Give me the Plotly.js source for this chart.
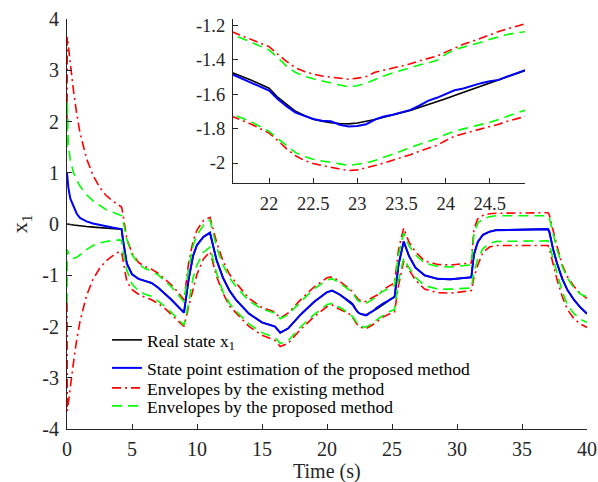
<!DOCTYPE html>
<html>
<head>
<meta charset="utf-8">
<script src="https://cdn.plot.ly/plotly-3.0.1.min.js"></script>
<style>html,body{margin:0;padding:0;background:#fff;}#chart{width:598px;height:482px;}</style>
</head>
<body>
<div id="chart"></div>
<script>
// ---------- data ----------
var time = [0,0.02,0.1,0.25,0.5,0.75,1.0,1.5,2.0,2.5,3.0,3.5,4.0,4.2,4.3,4.6,5.0,5.5,6.0,6.5,7.0,7.5,8.0,8.5,9.0,9.35,9.7,10.0,10.5,11.0,11.5,12.0,12.5,13.0,14.0,15.0,16.0,16.4,17.0,18.0,19.0,20.0,20.4,21.0,
  21.6,21.8,22.0,22.1,22.2,22.3,22.4,22.5,22.6,22.7,22.8,22.9,23.0,23.1,23.2,23.3,23.4,23.5,23.6,23.7,23.8,23.9,24.0,24.1,24.2,24.3,24.4,24.5,24.6,24.7,24.8,24.9,
  25.0,25.2,25.5,25.9,26.3,26.8,27.5,28.5,29.5,31.0,31.1,31.3,31.6,32.0,32.5,33.0,35.0,37.0,37.1,37.4,37.7,38.1,38.5,39.0,39.5,40.0];

var realState = [0,0,-0.005,-0.01,-0.02,-0.03,-0.04,-0.05,-0.06,-0.07,-0.08,-0.085,-0.09,-0.1,-0.3,-0.77,-0.98,-1.07,-1.11,-1.15,-1.24,-1.35,-1.47,-1.6,-1.73,-1.09,-0.62,-0.41,-0.25,-0.17,-0.70,-1.05,-1.3,-1.48,-1.75,-1.92,-2.0,-2.12,-2.04,-1.76,-1.52,-1.33,-1.30,-1.38,
  -1.48,-1.52,-1.566,-1.62,-1.66,-1.70,-1.725,-1.746,-1.758,-1.767,-1.771,-1.773,-1.768,-1.76,-1.748,-1.735,-1.722,-1.71,-1.695,-1.678,-1.662,-1.645,-1.627,-1.609,-1.591,-1.572,-1.553,-1.535,-1.516,-1.497,-1.48,-1.464,
  -1.45,-1.42,-0.8,-0.34,-0.62,-0.85,-1.0,-1.07,-1.08,-1.05,-1.04,-0.6,-0.35,-0.21,-0.15,-0.12,-0.11,-0.10,-0.15,-0.5,-0.77,-1.07,-1.29,-1.48,-1.63,-1.75];

var estimate = [1.0,0.93,0.72,0.5,0.33,0.2,0.12,0.05,0.01,-0.02,-0.05,-0.07,-0.09,-0.1,-0.3,-0.77,-0.98,-1.07,-1.11,-1.15,-1.24,-1.35,-1.47,-1.6,-1.73,-1.09,-0.62,-0.41,-0.25,-0.17,-0.70,-1.05,-1.3,-1.48,-1.75,-1.92,-2.0,-2.12,-2.04,-1.76,-1.52,-1.33,-1.30,-1.38,
  -1.49,-1.535,-1.58,-1.63,-1.672,-1.708,-1.728,-1.745,-1.755,-1.758,-1.778,-1.788,-1.786,-1.775,-1.748,-1.73,-1.72,-1.708,-1.692,-1.668,-1.64,-1.622,-1.598,-1.578,-1.568,-1.552,-1.537,-1.526,-1.518,-1.498,-1.478,-1.462,
  -1.45,-1.42,-0.8,-0.34,-0.62,-0.85,-1.0,-1.07,-1.08,-1.05,-1.04,-0.6,-0.35,-0.21,-0.15,-0.12,-0.11,-0.10,-0.15,-0.5,-0.77,-1.07,-1.29,-1.48,-1.63,-1.75];

var existingUpper = [2.0,3.65,3.48,3.12,2.6,2.15,1.78,1.28,0.95,0.72,0.56,0.45,0.37,0.33,0.2,-0.28,-0.57,-0.75,-0.83,-0.88,-0.96,-1.07,-1.18,-1.32,-1.48,-0.77,-0.33,-0.12,0.07,0.13,-0.35,-0.72,-0.98,-1.15,-1.45,-1.63,-1.72,-1.84,-1.74,-1.47,-1.23,-1.05,-1.03,-1.12,
  -1.242,-1.28,-1.325,-1.37,-1.412,-1.448,-1.47,-1.485,-1.496,-1.502,-1.51,-1.514,-1.508,-1.499,-1.474,-1.462,-1.452,-1.44,-1.425,-1.408,-1.395,-1.38,-1.357,-1.335,-1.312,-1.295,-1.275,-1.255,-1.238,-1.222,-1.208,-1.196,
  -1.18,-1.15,-0.5,-0.08,-0.35,-0.54,-0.72,-0.79,-0.8,-0.77,-0.76,-0.1,0.1,0.17,0.2,0.21,0.22,0.22,0.18,-0.15,-0.44,-0.8,-1.03,-1.22,-1.36,-1.45];

var existingLower = [-1.54,-3.65,-3.5,-3.15,-2.7,-2.25,-1.9,-1.4,-1.08,-0.87,-0.72,-0.62,-0.54,-0.55,-0.7,-1.12,-1.28,-1.37,-1.43,-1.48,-1.55,-1.64,-1.76,-1.88,-2.0,-1.62,-1.25,-0.98,-0.68,-0.54,-1.02,-1.35,-1.6,-1.74,-2.0,-2.17,-2.27,-2.39,-2.33,-2.05,-1.81,-1.61,-1.58,-1.67,
  -1.734,-1.775,-1.827,-1.87,-1.918,-1.958,-1.985,-2.003,-2.016,-2.025,-2.035,-2.044,-2.04,-2.029,-2.015,-2.0,-1.985,-1.968,-1.952,-1.932,-1.915,-1.898,-1.87,-1.845,-1.83,-1.817,-1.803,-1.79,-1.775,-1.758,-1.742,-1.73,
  -1.73,-1.71,-1.2,-0.73,-0.9,-1.09,-1.27,-1.34,-1.35,-1.3,-1.3,-1.05,-0.8,-0.55,-0.45,-0.42,-0.42,-0.42,-0.48,-0.8,-1.09,-1.42,-1.67,-1.85,-1.95,-2.02];

var proposedUpper = [1.5,2.4,1.55,1.25,1.0,0.85,0.74,0.57,0.45,0.36,0.28,0.23,0.18,0.16,0.08,-0.3,-0.6,-0.78,-0.87,-0.92,-0.99,-1.1,-1.22,-1.37,-1.52,-0.88,-0.42,-0.22,-0.02,0.08,-0.45,-0.8,-1.05,-1.22,-1.5,-1.66,-1.74,-1.85,-1.77,-1.51,-1.27,-1.09,-1.07,-1.15,
  -1.258,-1.3,-1.345,-1.39,-1.44,-1.475,-1.497,-1.512,-1.525,-1.535,-1.548,-1.558,-1.552,-1.537,-1.515,-1.495,-1.478,-1.462,-1.446,-1.432,-1.42,-1.405,-1.37,-1.343,-1.328,-1.315,-1.3,-1.283,-1.268,-1.255,-1.245,-1.239,
  -1.22,-1.2,-0.6,-0.18,-0.42,-0.6,-0.76,-0.83,-0.84,-0.8,-0.79,-0.2,0.02,0.1,0.14,0.16,0.16,0.16,0.12,-0.2,-0.5,-0.83,-1.06,-1.25,-1.37,-1.42];

var proposedLower = [-1.54,-0.5,-0.56,-0.63,-0.67,-0.65,-0.6,-0.5,-0.42,-0.37,-0.34,-0.32,-0.31,-0.32,-0.5,-0.9,-1.17,-1.3,-1.37,-1.41,-1.5,-1.6,-1.72,-1.85,-1.97,-1.55,-1.05,-0.8,-0.55,-0.45,-0.95,-1.32,-1.55,-1.7,-1.95,-2.12,-2.22,-2.33,-2.28,-2.0,-1.77,-1.57,-1.55,-1.63,
  -1.72,-1.762,-1.817,-1.858,-1.9,-1.94,-1.962,-1.978,-1.988,-1.995,-2.005,-2.014,-2.008,-2.0,-1.985,-1.968,-1.948,-1.93,-1.91,-1.893,-1.875,-1.858,-1.835,-1.815,-1.802,-1.79,-1.777,-1.764,-1.748,-1.728,-1.71,-1.695,
  -1.69,-1.67,-1.1,-0.67,-0.85,-1.04,-1.2,-1.27,-1.27,-1.25,-1.25,-0.95,-0.68,-0.48,-0.38,-0.34,-0.33,-0.33,-0.4,-0.7,-0.96,-1.32,-1.58,-1.75,-1.86,-1.92];

var seriesNames = ["Real state x<sub>1</sub>", "State point estimation of the proposed method", "Envelopes by the existing method", "Envelopes by the proposed method"];
var xTitle = "Time (s)";
var yTitle = "x<sub>1</sub>";

var mainXTicks = [0,5,10,15,20,25,30,35,40];
var mainXTickText = ["0","5","10","15","20","25","30","35","40"];
var mainYTicks = [-4,-3,-2,-1,0,1,2,3,4];
var mainYTickText = ["-4","-3","-2","-1","0","1","2","3","4"];
var insetXTicks = [22,22.5,23,23.5,24,24.5];
var insetXTickText = ["22","22.5","23","23.5","24","24.5"];
var insetYTicks = [-2,-1.8,-1.6,-1.4,-1.2];
var insetYTickText = ["-2","-1.8","-1.6","-1.4","-1.2"];

// ---------- styles ----------
var FONT = "Liberation Serif, Times New Roman, serif";
var AXC = "#262626";
var redDash = "9px,4px,2px,4px";
var greenDash = "10px,6px";

function makeTraces(xa, ya, legend) {
  return [
    {x: time, y: realState, mode: "lines", name: seriesNames[0], xaxis: xa, yaxis: ya, showlegend: legend, legend: "legend",
     line: {color: "#000000", width: 1.6}},
    {x: time, y: estimate, mode: "lines", name: seriesNames[1], xaxis: xa, yaxis: ya, showlegend: legend, legend: "legend2",
     line: {color: "#0000FF", width: 2}},
    {x: time, y: existingUpper, mode: "lines", name: seriesNames[2], xaxis: xa, yaxis: ya, showlegend: legend, legend: "legend3",
     line: {color: "#FF0000", width: 1.6, dash: redDash}},
    {x: time, y: existingLower, mode: "lines", name: seriesNames[2], xaxis: xa, yaxis: ya, showlegend: false,
     line: {color: "#FF0000", width: 1.6, dash: redDash}},
    {x: time, y: proposedUpper, mode: "lines", name: seriesNames[3], xaxis: xa, yaxis: ya, showlegend: legend, legend: "legend4",
     line: {color: "#00FF00", width: 1.6, dash: greenDash}},
    {x: time, y: proposedLower, mode: "lines", name: seriesNames[3], xaxis: xa, yaxis: ya, showlegend: false,
     line: {color: "#00FF00", width: 1.6, dash: greenDash}}
  ];
}

var data = makeTraces("x", "y", true).concat(makeTraces("x2", "y2", false));

var axisCommon = {
  showgrid: false, zeroline: false, showline: true, linecolor: AXC, linewidth: 1,
  ticks: "inside", ticklen: 5, tickwidth: 1, tickcolor: AXC,
  tickfont: {family: FONT, size: 20, color: AXC}, tickmode: "array", mirror: false
};

function legendAt(yPaper) {
  return {x: 0.077, y: yPaper, xanchor: "left", yanchor: "middle", bgcolor: "rgba(0,0,0,0)", borderwidth: 0,
          font: {family: FONT, size: 17.5, color: "#000"}};
}

var layout = {
  width: 598, height: 482,
  margin: {l: 67, r: 11, t: 19, b: 53, pad: 0},
  paper_bgcolor: "#ffffff", plot_bgcolor: "rgba(0,0,0,0)",
  font: {family: FONT, color: AXC},
  showlegend: true,
  legend: legendAt((429 - 340) / 410),
  legend2: legendAt((429 - 368) / 410),
  legend3: legendAt((429 - 388) / 410),
  legend4: legendAt((429 - 406) / 410),
  xaxis: Object.assign({}, axisCommon, {domain: [0, 1], range: [0, 40], tickvals: mainXTicks, ticktext: mainXTickText,
           anchor: "y", ticklabelstandoff: 2}),
  yaxis: Object.assign({}, axisCommon, {domain: [0, 1], range: [-4, 4], tickvals: mainYTicks, ticktext: mainYTickText,
           title: {text: yTitle, font: {family: FONT, size: 22, color: AXC}, standoff: 8}, anchor: "x", ticklabelstandoff: 3}),
  xaxis2: Object.assign({}, axisCommon, {domain: [0.319, 0.881], range: [21.59, 24.9], tickvals: insetXTicks, ticktext: insetXTickText, anchor: "y2",
           tickfont: {family: FONT, size: 18.5, color: AXC}, ticklabelstandoff: 4}),
  yaxis2: Object.assign({}, axisCommon, {domain: [0.6, 1], range: [-2.116, -1.165], tickvals: insetYTicks, ticktext: insetYTickText, anchor: "x2",
           tickfont: {family: FONT, size: 18.5, color: AXC}, ticklabelstandoff: 3}),
  annotations: [
    {text: xTitle, xref: "paper", yref: "paper", x: 0.5, y: -(471 - 429) / 410, xanchor: "center", yanchor: "middle",
     showarrow: false, font: {family: FONT, size: 20, color: AXC}}
  ]
};

Plotly.newPlot("chart", data, layout, {staticPlot: true, displayModeBar: false});
</script>
</body>
</html>
